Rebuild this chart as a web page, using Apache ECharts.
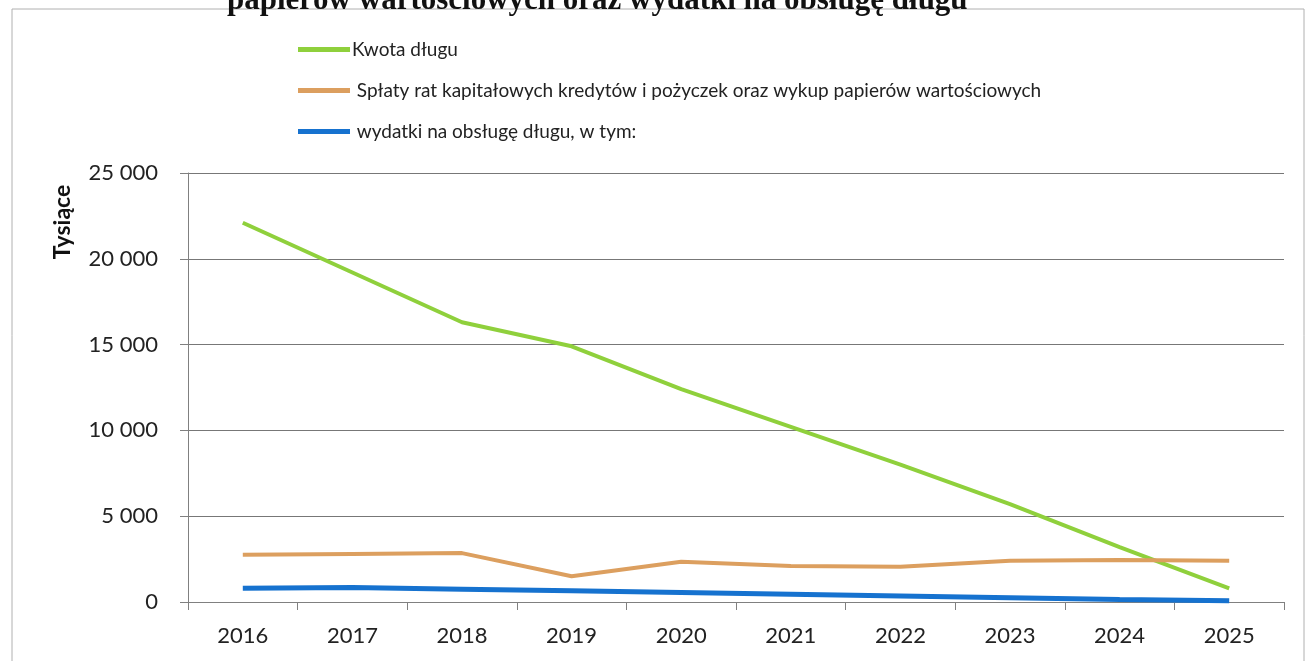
<!DOCTYPE html>
<html>
<head>
<meta charset="utf-8">
<script src="https://cdn.jsdelivr.net/npm/echarts@6/dist/echarts.min.js"></script>
<style>
  html, body { margin: 0; padding: 0; background: #fff; }
  #chart { width: 1308px; height: 661px; }
</style>
</head>
<body>
<div id="chart"></div>
<script>
const years = ["2016", "2017", "2018", "2019", "2020", "2021", "2022", "2023", "2024", "2025"];
const kwotaDlugu = [22100, 19200, 16300, 14900, 12400, 10200, 8000, 5700, 3200, 800];
const splatyRat = [2750, 2800, 2850, 1500, 2350, 2100, 2050, 2400, 2450, 2400];
const wydatkiObsluga = [800, 850, 750, 650, 550, 450, 350, 250, 150, 80];
const yTicks = [0, 5000, 10000, 15000, 20000, 25000];

const seriesNames = [
  "Kwota długu",
  " Spłaty rat kapitałowych kredytów i pożyczek oraz wykup papierów wartościowych",
  " wydatki na obsługę długu, w tym:"
];

const fmt = (v) => String(v).replace(/\B(?=(\d{3})+(?!\d))/g, " ");

const chart = echarts.init(document.getElementById("chart"));
chart.setOption({
  backgroundColor: "#fff",
  animation: false,
  title: {
    text: "papierów wartościowych oraz wydatki na obsługę długu",
    left: 222,
    top: -20,
    textStyle: {
      fontFamily: "Liberation Serif",
      fontWeight: "bold",
      fontSize: 31,
      color: "#111"
    }
  },
  graphic: [
    {
      type: "rect",
      shape: { x: 12, y: 9, width: 1292, height: 700 },
      style: { fill: "none", stroke: "#b0b0b0", lineWidth: 1 },
      silent: true
    },
    {
      type: "text",
      x: 63,
      y: 222,
      rotation: Math.PI / 2,
      style: {
        text: "Tysiące",
        fontFamily: "Lato",
        fontWeight: "bold",
        fontSize: 23,
        fill: "#111",
        align: "center",
        verticalAlign: "middle"
      }
    }
  ],
  legend: {
    orient: "vertical",
    left: 293,
    top: 35,
    itemWidth: 52,
    itemHeight: 5,
    itemGap: 22,
    icon: "rect",
    textStyle: { fontFamily: "Lato", fontSize: 19, color: "#222", padding: [0, 0, 0, -3] },
    data: seriesNames
  },
  grid: { left: 188, right: 24, top: 173, bottom: 59 },
  xAxis: {
    type: "category",
    data: years,
    boundaryGap: true,
    axisLine: { lineStyle: { color: "#808080", width: 1 } },
    axisTick: { show: true, length: 8, lineStyle: { color: "#808080" } },
    axisLabel: { fontFamily: "Lato", fontSize: 22, color: "#222", margin: 23 }
  },
  yAxis: {
    type: "value",
    min: 0,
    max: 25000,
    interval: 5000,
    axisLine: { show: true, lineStyle: { color: "#808080", width: 1 } },
    axisTick: { show: true, length: 8, lineStyle: { color: "#808080" } },
    splitLine: { lineStyle: { color: "#777", width: 1 } },
    axisLabel: {
      fontFamily: "Lato",
      fontSize: 22,
      color: "#222",
      margin: 30,
      formatter: (v) => yTicks.includes(v) ? fmt(v) : ""
    }
  },
  series: [
    {
      name: seriesNames[0],
      type: "line",
      data: kwotaDlugu,
      symbol: "none",
      lineStyle: { color: "#8fd03c", width: 4 },
      itemStyle: { color: "#8fd03c" }
    },
    {
      name: seriesNames[1],
      type: "line",
      data: splatyRat,
      symbol: "none",
      lineStyle: { color: "#dc9f5f", width: 4 },
      itemStyle: { color: "#dc9f5f" }
    },
    {
      name: seriesNames[2],
      type: "line",
      data: wydatkiObsluga,
      symbol: "none",
      lineStyle: { color: "#1672cf", width: 5 },
      itemStyle: { color: "#1672cf" }
    }
  ]
});
</script>
</body>
</html>
